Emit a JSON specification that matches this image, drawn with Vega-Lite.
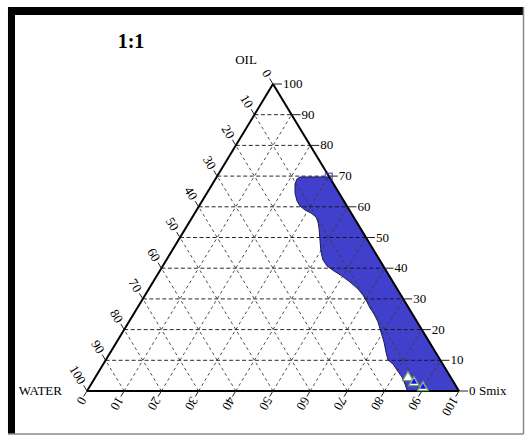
{
  "$schema": "https://vega.github.io/schema/vega-lite/v6.json",
  "width": 525,
  "height": 438,
  "autosize": {"type": "fit", "contains": "padding"},
  "padding": 0,
  "background": "white",
  "view": {"stroke": null},
  "config": {"text": {"font": "Liberation Serif", "fontSize": 13, "color": "black"}},
  "datasets": {
    "frameBars": [
      {"x": -21.24, "x2": -19.35, "y": 125.08, "y2": -14.01},
      {"x": -21.24, "x2": 117.34, "y": 125.08, "y2": 122.48}
    ],
    "frameThin": [
      {"x": 117.34, "y": 125.08, "x2": 117.34, "y2": -14.01},
      {"x": -21.24, "y": -14.01, "x2": 117.34, "y2": -14.01}
    ],
    "region": [
      {"y": 0, "x": 86.29, "x2": 100},
      {"y": 0.33, "x": 86.02, "x2": 99.835},
      {"y": 2.28, "x": 85.48, "x2": 98.86},
      {"y": 4.56, "x": 84.68, "x2": 97.72},
      {"y": 6.84, "x": 83.33, "x2": 96.58},
      {"y": 8.79, "x": 82.26, "x2": 95.605},
      {"y": 10.1, "x": 80.91, "x2": 94.95},
      {"y": 12.7, "x": 80.38, "x2": 93.65},
      {"y": 15.96, "x": 79.84, "x2": 92.02},
      {"y": 19.22, "x": 79.03, "x2": 90.39},
      {"y": 22.48, "x": 78.23, "x2": 88.76},
      {"y": 25.08, "x": 77.15, "x2": 87.46},
      {"y": 27.04, "x": 76.08, "x2": 86.48},
      {"y": 28.99, "x": 75.27, "x2": 85.505},
      {"y": 31.27, "x": 74.19, "x2": 84.365},
      {"y": 33.22, "x": 72.85, "x2": 83.39},
      {"y": 35.5, "x": 70.7, "x2": 82.25},
      {"y": 37.46, "x": 68.55, "x2": 81.27},
      {"y": 39.09, "x": 66.4, "x2": 80.455},
      {"y": 40.72, "x": 64.52, "x2": 79.64},
      {"y": 42.67, "x": 63.44, "x2": 78.665},
      {"y": 45.28, "x": 62.9, "x2": 77.36},
      {"y": 49.19, "x": 62.63, "x2": 75.405},
      {"y": 53.09, "x": 62.37, "x2": 73.455},
      {"y": 55.05, "x": 62.1, "x2": 72.475},
      {"y": 56.68, "x": 61.56, "x2": 71.66},
      {"y": 57.98, "x": 60.22, "x2": 71.01},
      {"y": 58.96, "x": 58.6, "x2": 70.52},
      {"y": 60.26, "x": 57.26, "x2": 69.87},
      {"y": 61.89, "x": 56.45, "x2": 69.055},
      {"y": 64.5, "x": 55.91, "x2": 67.75},
      {"y": 67.43, "x": 55.91, "x2": 66.285},
      {"y": 69.06, "x": 56.45, "x2": 65.47},
      {"y": 69.71, "x": 57.26, "x2": 65.145}
    ],
    "gridH": [
      {"x": 5, "y": 10, "x2": 95, "y2": 10},
      {"x": 10, "y": 20, "x2": 90, "y2": 20},
      {"x": 15, "y": 30, "x2": 85, "y2": 30},
      {"x": 20, "y": 40, "x2": 80, "y2": 40},
      {"x": 25, "y": 50, "x2": 75, "y2": 50},
      {"x": 30, "y": 60, "x2": 70, "y2": 60},
      {"x": 35, "y": 70, "x2": 65, "y2": 70},
      {"x": 40, "y": 80, "x2": 60, "y2": 80},
      {"x": 45, "y": 90, "x2": 55, "y2": 90}
    ],
    "gridD": [
      {"x": 10, "y": 0, "x2": 55, "y2": 90},
      {"x": 20, "y": 0, "x2": 60, "y2": 80},
      {"x": 30, "y": 0, "x2": 65, "y2": 70},
      {"x": 40, "y": 0, "x2": 70, "y2": 60},
      {"x": 50, "y": 0, "x2": 75, "y2": 50},
      {"x": 60, "y": 0, "x2": 80, "y2": 40},
      {"x": 70, "y": 0, "x2": 85, "y2": 30},
      {"x": 80, "y": 0, "x2": 90, "y2": 20},
      {"x": 90, "y": 0, "x2": 95, "y2": 10},
      {"x": 10, "y": 0, "x2": 5, "y2": 10},
      {"x": 20, "y": 0, "x2": 10, "y2": 20},
      {"x": 30, "y": 0, "x2": 15, "y2": 30},
      {"x": 40, "y": 0, "x2": 20, "y2": 40},
      {"x": 50, "y": 0, "x2": 25, "y2": 50},
      {"x": 60, "y": 0, "x2": 30, "y2": 60},
      {"x": 70, "y": 0, "x2": 35, "y2": 70},
      {"x": 80, "y": 0, "x2": 40, "y2": 80},
      {"x": 90, "y": 0, "x2": 45, "y2": 90}
    ],
    "edges": [
      {"x": 0, "y": 0, "x2": 100, "y2": 0},
      {"x": 100, "y": 0, "x2": 50, "y2": 100},
      {"x": 50, "y": 100, "x2": 0, "y2": 0}
    ],
    "ticks": [
      {"x": 100, "y": 0, "x2": 102.42, "y2": 0},
      {"x": 95, "y": 10, "x2": 97.42, "y2": 10},
      {"x": 90, "y": 20, "x2": 92.42, "y2": 20},
      {"x": 85, "y": 30, "x2": 87.42, "y2": 30},
      {"x": 80, "y": 40, "x2": 82.42, "y2": 40},
      {"x": 75, "y": 50, "x2": 77.42, "y2": 50},
      {"x": 70, "y": 60, "x2": 72.42, "y2": 60},
      {"x": 65, "y": 70, "x2": 67.42, "y2": 70},
      {"x": 60, "y": 80, "x2": 62.42, "y2": 80},
      {"x": 55, "y": 90, "x2": 57.42, "y2": 90},
      {"x": 50, "y": 100, "x2": 52.42, "y2": 100},
      {"x": 0, "y": 0, "x2": -0.905, "y2": -1.81},
      {"x": 10, "y": 0, "x2": 9.095, "y2": -1.81},
      {"x": 20, "y": 0, "x2": 19.095, "y2": -1.81},
      {"x": 30, "y": 0, "x2": 29.095, "y2": -1.81},
      {"x": 40, "y": 0, "x2": 39.095, "y2": -1.81},
      {"x": 50, "y": 0, "x2": 49.095, "y2": -1.81},
      {"x": 60, "y": 0, "x2": 59.095, "y2": -1.81},
      {"x": 70, "y": 0, "x2": 69.095, "y2": -1.81},
      {"x": 80, "y": 0, "x2": 79.095, "y2": -1.81},
      {"x": 90, "y": 0, "x2": 89.095, "y2": -1.81},
      {"x": 100, "y": 0, "x2": 99.095, "y2": -1.81},
      {"x": 50, "y": 100, "x2": 49.095, "y2": 101.81},
      {"x": 45, "y": 90, "x2": 44.095, "y2": 91.81},
      {"x": 40, "y": 80, "x2": 39.095, "y2": 81.81},
      {"x": 35, "y": 70, "x2": 34.095, "y2": 71.81},
      {"x": 30, "y": 60, "x2": 29.095, "y2": 61.81},
      {"x": 25, "y": 50, "x2": 24.095, "y2": 51.81},
      {"x": 20, "y": 40, "x2": 19.095, "y2": 41.81},
      {"x": 15, "y": 30, "x2": 14.095, "y2": 31.81},
      {"x": 10, "y": 20, "x2": 9.095, "y2": 21.81},
      {"x": 5, "y": 10, "x2": 4.095, "y2": 11.81},
      {"x": 0, "y": 0, "x2": -0.905, "y2": 1.81}
    ],
    "rightLabels": [
      {"x": 100, "y": 0, "label": "0"},
      {"x": 95, "y": 10, "label": "10"},
      {"x": 90, "y": 20, "label": "20"},
      {"x": 85, "y": 30, "label": "30"},
      {"x": 80, "y": 40, "label": "40"},
      {"x": 75, "y": 50, "label": "50"},
      {"x": 70, "y": 60, "label": "60"},
      {"x": 65, "y": 70, "label": "70"},
      {"x": 60, "y": 80, "label": "80"},
      {"x": 55, "y": 90, "label": "90"},
      {"x": 50, "y": 100, "label": "100"}
    ],
    "bottomLabels": [
      {"x": 0, "y": 0, "label": "0"},
      {"x": 10, "y": 0, "label": "10"},
      {"x": 20, "y": 0, "label": "20"},
      {"x": 30, "y": 0, "label": "30"},
      {"x": 40, "y": 0, "label": "40"},
      {"x": 50, "y": 0, "label": "50"},
      {"x": 60, "y": 0, "label": "60"},
      {"x": 70, "y": 0, "label": "70"},
      {"x": 80, "y": 0, "label": "80"},
      {"x": 90, "y": 0, "label": "90"},
      {"x": 100, "y": 0, "label": "100"}
    ],
    "leftLabels": [
      {"x": 50, "y": 100, "label": "0"},
      {"x": 45, "y": 90, "label": "10"},
      {"x": 40, "y": 80, "label": "20"},
      {"x": 35, "y": 70, "label": "30"},
      {"x": 30, "y": 60, "label": "40"},
      {"x": 25, "y": 50, "label": "50"},
      {"x": 20, "y": 40, "label": "60"},
      {"x": 15, "y": 30, "label": "70"},
      {"x": 10, "y": 20, "label": "80"},
      {"x": 5, "y": 10, "label": "90"},
      {"x": 0, "y": 0, "label": "100"}
    ],
    "squares": [{"x": 65.0, "y": 69.8}],
    "halos": [
      {"x": 86.29, "y": 4.89},
      {"x": 87.9, "y": 3.26},
      {"x": 90.32, "y": 1.6}
    ],
    "triangles": [
      {"x": 87.9, "y": 3.26},
      {"x": 90.32, "y": 1.6}
    ],
    "titleText": [{"x": 11.83, "y": 113.68, "label": "1:1"}],
    "axisTitlesCenter": [{"x": 42.74, "y": 107.82, "label": "OIL"}],
    "axisTitlesRight": [{"x": -6.72, "y": 0.16, "label": "WATER"}],
    "axisTitlesLeft": [{"x": 105.38, "y": 0, "label": "Smix"}]
  },
  "encoding": {
    "x": {"field": "x", "type": "quantitative", "scale": {"domain": [-23.387, 117.742], "nice": false, "zero": false}, "axis": null},
    "y": {"field": "y", "type": "quantitative", "scale": {"domain": [-15.309, 127.362], "nice": false, "zero": false}, "axis": null}
  },
  "layer": [
    {
      "data": {"name": "frameBars"},
      "mark": {"type": "rect", "fill": "black"},
      "encoding": {"x2": {"field": "x2"}, "y2": {"field": "y2"}}
    },
    {
      "data": {"name": "frameThin"},
      "mark": {"type": "rule", "stroke": "#8a8a8a", "strokeWidth": 1.5},
      "encoding": {"x2": {"field": "x2"}, "y2": {"field": "y2"}}
    },
    {
      "data": {"name": "region"},
      "mark": {"type": "area", "orient": "horizontal", "fill": "#4040CC", "fillOpacity": 1, "stroke": "#1c1c50", "strokeWidth": 1},
      "encoding": {"x2": {"field": "x2"}}
    },
    {
      "data": {"name": "gridD"},
      "mark": {"type": "rule", "stroke": "#3a3a3a", "strokeWidth": 0.9, "strokeDash": [3, 3]},
      "encoding": {"x2": {"field": "x2"}, "y2": {"field": "y2"}}
    },
    {
      "data": {"name": "gridH"},
      "mark": {"type": "rule", "stroke": "#111111", "strokeWidth": 0.9, "strokeDash": [4, 2.5]},
      "encoding": {"x2": {"field": "x2"}, "y2": {"field": "y2"}}
    },
    {
      "data": {"name": "edges"},
      "mark": {"type": "rule", "stroke": "black", "strokeWidth": 2},
      "encoding": {"x2": {"field": "x2"}, "y2": {"field": "y2"}}
    },
    {
      "data": {"name": "ticks"},
      "mark": {"type": "rule", "stroke": "#222222", "strokeWidth": 1},
      "encoding": {"x2": {"field": "x2"}, "y2": {"field": "y2"}}
    },
    {
      "data": {"name": "squares"},
      "mark": {"type": "point", "shape": "square", "size": 45, "filled": false, "stroke": "#3030d0", "strokeWidth": 1.5}
    },
    {
      "data": {"name": "halos"},
      "mark": {"type": "point", "shape": "triangle-up", "size": 110, "filled": true, "fill": "white", "stroke": "#6fa35f", "strokeWidth": 1.3, "opacity": 1}
    },
    {
      "data": {"name": "triangles"},
      "mark": {"type": "point", "shape": "triangle-up", "size": 40, "filled": true, "fill": "#1010f0", "strokeWidth": 0, "opacity": 1}
    },
    {
      "data": {"name": "rightLabels"},
      "mark": {"type": "text", "align": "left", "baseline": "middle", "dx": 10},
      "encoding": {"text": {"field": "label"}}
    },
    {
      "data": {"name": "bottomLabels"},
      "mark": {"type": "text", "align": "left", "baseline": "middle", "angle": 121, "dx": 8},
      "encoding": {"text": {"field": "label"}}
    },
    {
      "data": {"name": "leftLabels"},
      "mark": {"type": "text", "align": "right", "baseline": "middle", "angle": 59, "dx": -9},
      "encoding": {"text": {"field": "label"}}
    },
    {
      "data": {"name": "titleText"},
      "mark": {"type": "text", "align": "center", "baseline": "middle", "fontSize": 20, "fontWeight": "bold"},
      "encoding": {"text": {"field": "label"}}
    },
    {
      "data": {"name": "axisTitlesCenter"},
      "mark": {"type": "text", "align": "center", "baseline": "middle"},
      "encoding": {"text": {"field": "label"}}
    },
    {
      "data": {"name": "axisTitlesRight"},
      "mark": {"type": "text", "align": "right", "baseline": "middle"},
      "encoding": {"text": {"field": "label"}}
    },
    {
      "data": {"name": "axisTitlesLeft"},
      "mark": {"type": "text", "align": "left", "baseline": "middle"},
      "encoding": {"text": {"field": "label"}}
    }
  ]
}
